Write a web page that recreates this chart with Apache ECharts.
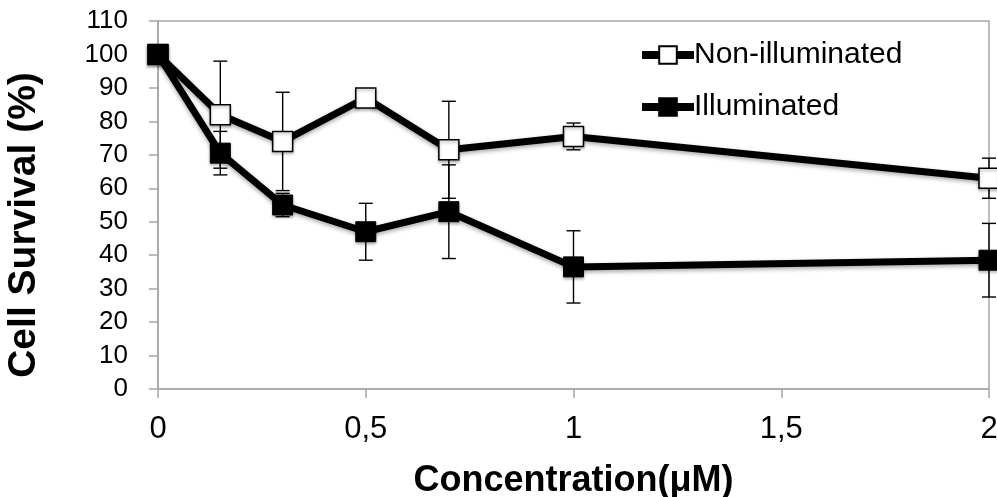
<!DOCTYPE html>
<html>
<head>
<meta charset="utf-8">
<script src="https://cdn.jsdelivr.net/npm/echarts@6/dist/echarts.min.js"></script>
<style>html,body{margin:0;padding:0;background:#fff;}#chart{width:997px;height:497px;}</style>
</head>
<body>
<div id="chart"></div>
<script>
const concentrations = [0, 0.15, 0.3, 0.5, 0.7, 1, 2];
const nonIlluminated = [100, 82, 74, 87, 71.5, 75.5, 63];
const nonIlluminatedErr = [0, 16, 14.7, 1, 14.5, 4, 6];
const illuminated = [100, 70.5, 55, 47, 53, 36.5, 38.5];
const illuminatedErr = [0, 6.5, 3.5, 8.5, 14, 10.8, 11];
const seriesNames = ['Non-illuminated', 'Illuminated'];
const xTicks = { min: 0, max: 2, interval: 0.5 };
const yTicks = { min: 0, max: 110, interval: 10 };

const FONT = 'Liberation Sans, Arial, sans-serif';
const AXIS_GRAY = '#a6a6a6';

function pts(vals) { return concentrations.map((x, i) => [x, vals[i]]); }
function errData(vals, errs) {
  return concentrations.map((x, i) => [x, vals[i] - errs[i], vals[i] + errs[i], errs[i]]);
}
function errRender(params, api) {
  if (api.value(3) <= 0) return null;
  const x = api.value(0);
  const lo = api.coord([x, api.value(1)]);
  const hi = api.coord([x, api.value(2)]);
  const cap = 7;
  const st = { stroke: '#000', lineWidth: 1.4 };
  return {
    type: 'group',
    children: [
      { type: 'line', shape: { x1: lo[0], y1: lo[1], x2: hi[0], y2: hi[1] }, style: st },
      { type: 'line', shape: { x1: lo[0] - cap, y1: lo[1], x2: lo[0] + cap, y2: lo[1] }, style: st },
      { type: 'line', shape: { x1: hi[0] - cap, y1: hi[1], x2: hi[0] + cap, y2: hi[1] }, style: st }
    ]
  };
}

const chart = echarts.init(document.getElementById('chart'), null, { renderer: 'canvas' });
chart.setOption({
  animation: false,
  backgroundColor: '#fff',
  textStyle: { fontFamily: FONT },
  grid: {
    left: 158, right: 8, top: 21, bottom: 108,
    outerBoundsMode: 'none', containLabel: false,
    show: true, borderColor: AXIS_GRAY, borderWidth: 1.5, backgroundColor: 'transparent'
  },
  legend: {
    orient: 'vertical',
    left: 638,
    top: 40,
    padding: 0,
    itemWidth: 52,
    itemHeight: 22,
    itemGap: 22,
    data: seriesNames,
    lineStyle: { width: 8 },
    textStyle: { fontSize: 30, color: '#000', fontFamily: FONT, padding: [0, 0, 0, -5] }
  },
  xAxis: {
    type: 'value',
    min: xTicks.min, max: xTicks.max, interval: xTicks.interval,
    name: 'Concentration(μM)',
    nameLocation: 'middle',
    nameGap: 74,
    nameMoveOverlap: false,
    nameTextStyle: { fontSize: 36, fontWeight: 'bold', color: '#000', fontFamily: FONT },
    axisLine: { show: true, lineStyle: { color: AXIS_GRAY, width: 1.5 } },
    axisTick: { show: true, inside: false, length: 9, lineStyle: { color: AXIS_GRAY, width: 1.5 } },
    axisLabel: { fontSize: 31, color: '#000', margin: 25, formatter: v => String(v).replace('.', ',') },
    splitLine: { show: false }
  },
  yAxis: {
    type: 'value',
    min: yTicks.min, max: yTicks.max, interval: yTicks.interval,
    name: 'Cell Survival (%)',
    nameLocation: 'middle',
    nameGap: 114,
    nameTextStyle: { fontSize: 39, fontWeight: 'bold', color: '#000', fontFamily: FONT, padding: [0, 40, 0, 0] },
    axisLine: { show: true, lineStyle: { color: AXIS_GRAY, width: 1.5 } },
    axisTick: { show: true, inside: false, length: 9, lineStyle: { color: AXIS_GRAY, width: 1.5 } },
    axisLabel: { fontSize: 26, color: '#000', margin: 30 },
    splitLine: { show: false }
  },
  series: [
    {
      type: 'custom', name: 'errNon', renderItem: errRender, data: errData(nonIlluminated, nonIlluminatedErr),
      encode: { x: 0, y: [1, 2] }, z: 1, silent: true
    },
    {
      type: 'custom', name: 'errIll', renderItem: errRender, data: errData(illuminated, illuminatedErr),
      encode: { x: 0, y: [1, 2] }, z: 1, silent: true
    },
    {
      name: seriesNames[0], type: 'line', data: pts(nonIlluminated), z: 3,
      symbol: 'rect', symbolSize: 20, showAllSymbol: true,
      lineStyle: { color: '#000', width: 7, shadowBlur: 4, shadowColor: 'rgba(0,0,0,0.35)', shadowOffsetY: 2 },
      itemStyle: { color: '#fff', borderColor: '#000', borderWidth: 1.5, shadowBlur: 3, shadowColor: 'rgba(0,0,0,0.3)', shadowOffsetY: 2 }
    },
    {
      name: seriesNames[1], type: 'line', data: pts(illuminated), z: 4,
      symbol: 'rect', symbolSize: 20, showAllSymbol: true,
      lineStyle: { color: '#000', width: 7, shadowBlur: 4, shadowColor: 'rgba(0,0,0,0.35)', shadowOffsetY: 2 },
      itemStyle: { color: '#000', borderColor: '#000', borderWidth: 1, shadowBlur: 3, shadowColor: 'rgba(0,0,0,0.3)', shadowOffsetY: 2 }
    }
  ]
});
</script>
</body>
</html>
